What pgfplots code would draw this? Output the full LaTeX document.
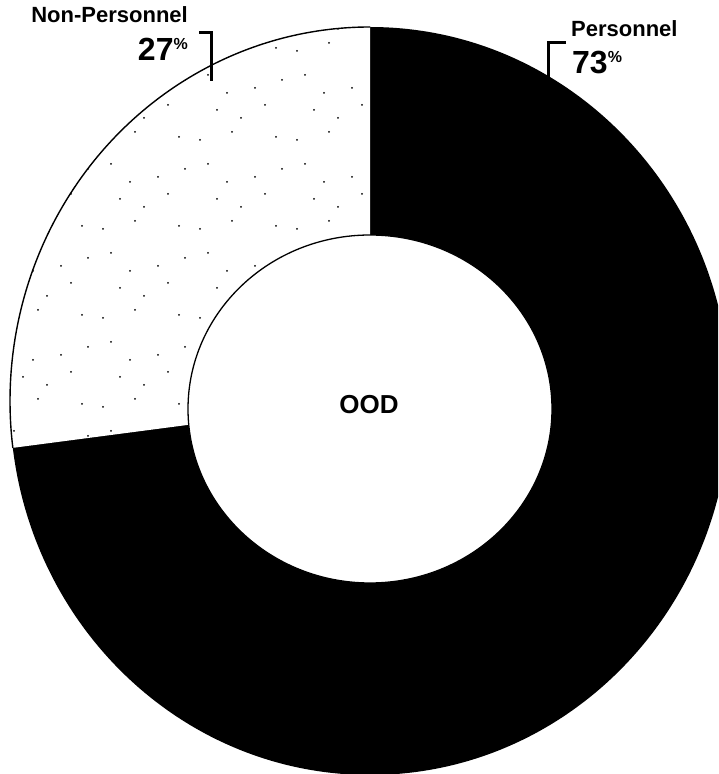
\documentclass[border=0pt]{standalone}
\usepackage{fontspec}
\setmainfont{Liberation Sans}
\usepackage{pgfplots}
\pgfplotsset{compat=1.18}
\usetikzlibrary{patterns}
\pgfdeclarepatternformonly{sparsedots}{\pgfpoint{-2pt}{-2pt}}{\pgfpoint{99pt}{91pt}}{\pgfpoint{97pt}{89pt}}{%
  \pgfpathcircle{\pgfpoint{6pt}{11pt}}{1pt}%
  \pgfpathcircle{\pgfpoint{23pt}{41pt}}{1pt}%
  \pgfpathcircle{\pgfpoint{38pt}{19pt}}{1pt}%
  \pgfpathcircle{\pgfpoint{61pt}{63pt}}{1pt}%
  \pgfpathcircle{\pgfpoint{47pt}{33pt}}{1pt}%
  \pgfpathcircle{\pgfpoint{82pt}{14pt}}{1pt}%
  \pgfpathcircle{\pgfpoint{88pt}{71pt}}{1pt}%
  \pgfpathcircle{\pgfpoint{14pt}{76pt}}{1pt}%
  \pgfpathcircle{\pgfpoint{71pt}{46pt}}{1pt}%
  \pgfpathcircle{\pgfpoint{33pt}{58pt}}{1pt}%
  \pgfusepath{fill}}
% data (percent)
\def\personnel{73}
\def\nonpersonnel{27}
\begin{document}
\begin{tikzpicture}
\begin{axis}[
  scale only axis, width=718pt, height=774pt,
  xmin=0, xmax=718, ymin=0, ymax=774,
  axis line style={draw=none}, ticks=none,
  clip=true,
]
\pgfmathsetmacro{\endang}{90+3.6*\nonpersonnel}
% Personnel (black, full outer ellipse first)
\fill[black] (axis cs:370,373) ellipse [x radius=360, y radius=374];
% Non-Personnel wedge
\fill[white] (axis cs:370,373) -- (axis cs:370,747)
   arc[start angle=90, end angle=\endang, x radius=360, y radius=374] -- cycle;
\fill[pattern=sparsedots, pattern color=black] (axis cs:370,373) -- (axis cs:370,747)
   arc[start angle=90, end angle=\endang, x radius=360, y radius=374] -- cycle;
\draw[black, line width=1.4pt] (axis cs:370,747)
   arc[start angle=90, end angle=\endang, x radius=360, y radius=374];
% hole
\fill[white, draw=black, line width=1.3pt] (axis cs:370,365) ellipse [x radius=182, y radius=174];
% centre label
\node[anchor=center, font=\bfseries\fontsize{26}{30}\selectfont] at (axis cs:369,369) {OOD};
% labels
\node[anchor=base east, inner sep=0pt, font=\bfseries\fontsize{22}{26}\selectfont] at (axis cs:188,751) {Non-Personnel};
\node[anchor=base east, inner sep=0pt, font=\bfseries\fontsize{32}{38}\selectfont] at (axis cs:188,713) {27\raisebox{11pt}{\fontsize{16}{16}\selectfont\%}};
\node[anchor=base west, inner sep=0pt, font=\bfseries\fontsize{22}{26}\selectfont] at (axis cs:571,737) {Personnel};
\node[anchor=base west, inner sep=0pt, font=\bfseries\fontsize{32}{38}\selectfont] at (axis cs:572,700) {73\raisebox{11pt}{\fontsize{16}{16}\selectfont\%}};
% leader brackets
\draw[line width=3pt] (axis cs:199,741) -- (axis cs:211,741) -- (axis cs:211,693);
\draw[line width=3pt] (axis cs:566,731) -- (axis cs:548,731) -- (axis cs:548,681);
\end{axis}
\pgfresetboundingbox
\path (current axis.south west) rectangle (current axis.north east);
\end{tikzpicture}
\end{document}
